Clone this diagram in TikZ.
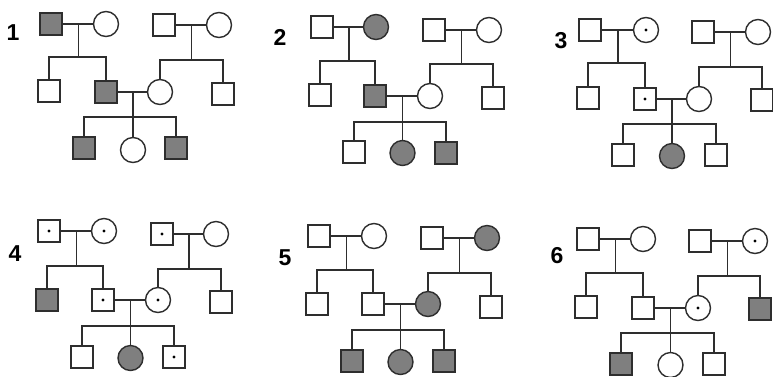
\documentclass[tikz,border=0pt]{standalone}
\usepackage{fontspec}
\setmainfont{Liberation Sans}
\usetikzlibrary{calc}
\definecolor{aff}{HTML}{7F7F7F}
\definecolor{ln}{HTML}{2E2E2E}
\tikzset{
  male/.style={draw=ln, line width=1.4pt, rectangle, minimum size=22pt, inner sep=0pt, fill=white},
  female/.style={draw=ln, line width=1.4pt, circle, minimum size=25pt, inner sep=0pt, fill=white},
  affected/.style={fill=aff},
  carrier/.style={path picture={\fill[black] (path picture bounding box.center) circle (1.6pt);}},
  conn/.style={draw=ln, line width=1.5pt},
  lab/.style={font=\fontsize{23}{23}\selectfont\bfseries, inner sep=0pt}
}
\newcommand\pedlines[4]{%
  % #1 panel id, #2 sib y left, #3 sib y right, #4 sib y bottom
  \draw[conn] (a#1) -- (b#1);
  \draw[conn] (c#1) -- (d#1);
  \coordinate (ma#1) at ($(a#1)!0.5!(b#1)$);
  \coordinate (mc#1) at ($(c#1)!0.5!(d#1)$);
  \coordinate (sa#1) at (ma#1 |- 0,#2);
  \coordinate (sc#1) at (mc#1 |- 0,#3);
  \draw[conn] (ma#1) -- (sa#1);
  \draw[conn] (mc#1) -- (sc#1);
  \draw[conn] (e#1.north) |- (sa#1) -| (f#1.north);
  \draw[conn] (g#1.north) |- (sc#1) -| (h#1.north);
  \draw[conn] (f#1) -- (g#1);
  \coordinate (sf#1) at (mf#1 |- 0,#4);
  \draw[conn] (mf#1) -- (j#1.north);
  \draw[conn] (i#1.north) |- (sf#1) -| (k#1.north);
}
\begin{document}
\begin{tikzpicture}[x=1pt,y=-1pt]
\useasboundingbox (0,0) rectangle (773,376);
\fill[white] (0,0) rectangle (773,376);

% ---------- Panel 1 ----------
\node[lab] (l1) at (13,33) {1};
\node[male,affected] (a1) at (51,24) {};
\node[female] (b1) at (106,24) {};
\node[male] (c1) at (164,25) {};
\node[female] (d1) at (219,25) {};
\node[male] (e1) at (49,91) {};
\node[male,affected] (f1) at (106,92) {};
\node[female] (g1) at (160,92) {};
\node[male] (h1) at (223,94) {};
\coordinate (mf1) at ($(f1)!0.5!(g1)$);
\node[male,affected] (i1) at (84,148) {};
\node[female] (j1) at (mf1 |- 0,150) {};
\node[male,affected] (k1) at (176,148) {};
\pedlines{1}{57}{60}{117}

% ---------- Panel 2 ----------
\node[lab] (l2) at (280,37) {2};
\node[male] (a2) at (322,27) {};
\node[female,affected] (b2) at (376,27) {};
\node[male] (c2) at (434,30) {};
\node[female] (d2) at (489,30) {};
\node[male] (e2) at (320,95) {};
\node[male,affected] (f2) at (375,96) {};
\node[female] (g2) at (430,96) {};
\node[male] (h2) at (493,98) {};
\coordinate (mf2) at ($(f2)!0.5!(g2)$);
\node[male] (i2) at (354,152) {};
\node[female,affected] (j2) at (mf2 |- 0,153) {};
\node[male,affected] (k2) at (446,153) {};
\pedlines{2}{61}{64}{122}

% ---------- Panel 3 ----------
\node[lab] (l3) at (561,41) {3};
\node[male] (a3) at (590,30) {};
\node[female,carrier] (b3) at (646,30) {};
\node[male] (c3) at (703,32) {};
\node[female] (d3) at (758,32) {};
\node[male] (e3) at (588,98) {};
\node[male,carrier] (f3) at (645,99) {};
\node[female] (g3) at (699,99) {};
\node[male] (h3) at (762,100) {};
\coordinate (mf3) at ($(f3)!0.5!(g3)$);
\node[male] (i3) at (623,155) {};
\node[female,affected] (j3) at (mf3 |- 0,156) {};
\node[male] (k3) at (716,155) {};
\pedlines{3}{63}{67}{124}

% ---------- Panel 4 ----------
\node[lab] (l4) at (15,254) {4};
\node[male,carrier] (a4) at (49,231) {};
\node[female,carrier] (b4) at (104,231) {};
\node[male,carrier] (c4) at (162,234) {};
\node[female] (d4) at (216,234) {};
\node[male,affected] (e4) at (47,300) {};
\node[male,carrier] (f4) at (103,300) {};
\node[female,carrier] (g4) at (158,300) {};
\node[male] (h4) at (221,302) {};
\coordinate (mf4) at ($(f4)!0.5!(g4)$);
\node[male] (i4) at (82,357) {};
\node[female,affected] (j4) at (mf4 |- 0,358) {};
\node[male,carrier] (k4) at (174,357) {};
\pedlines{4}{266}{269}{326}

% ---------- Panel 5 ----------
\node[lab] (l5) at (285,258) {5};
\node[male] (a5) at (319,236) {};
\node[female] (b5) at (374,236) {};
\node[male] (c5) at (432,238) {};
\node[female,affected] (d5) at (487,238) {};
\node[male] (e5) at (317,304) {};
\node[male] (f5) at (373,304) {};
\node[female,affected] (g5) at (428,304) {};
\node[male] (h5) at (491,307) {};
\coordinate (mf5) at ($(f5)!0.5!(g5)$);
\node[male,affected] (i5) at (352,361) {};
\node[female,affected] (j5) at (mf5 |- 0,362) {};
\node[male,affected] (k5) at (444,361) {};
\pedlines{5}{270}{273}{330}

% ---------- Panel 6 ----------
\node[lab] (l6) at (557,256) {6};
\node[male] (a6) at (588,239) {};
\node[female] (b6) at (643,239) {};
\node[male] (c6) at (700,241) {};
\node[female,carrier] (d6) at (755,241) {};
\node[male] (e6) at (586,307) {};
\node[male] (f6) at (643,308) {};
\node[female,carrier] (g6) at (698,308) {};
\node[male,affected] (h6) at (760,309) {};
\coordinate (mf6) at ($(f6)!0.5!(g6)$);
\node[male,affected] (i6) at (621,364) {};
\node[female] (j6) at (mf6 |- 0,365) {};
\node[male] (k6) at (714,364) {};
\pedlines{6}{273}{276}{333}
\end{tikzpicture}
\end{document}
